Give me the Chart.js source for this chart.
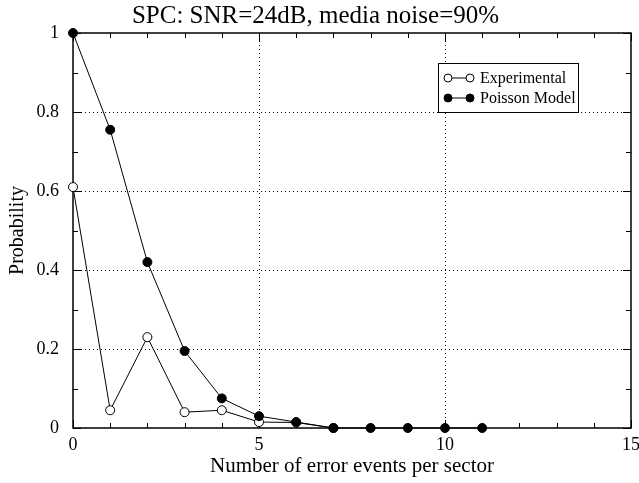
<!DOCTYPE html>
<html>
<head>
<meta charset="utf-8">
<script src="https://cdn.jsdelivr.net/npm/chart.js@4.4.0/dist/chart.umd.min.js"></script>
<style>
html,body{margin:0;padding:0;background:#fff;}
#wrap{width:639px;height:483px;}
</style>
</head>
<body>
<div id="wrap"><canvas id="c" width="639" height="483"></canvas></div>
<script>
const xExperimental = [0, 1, 2, 3, 4, 5, 6, 7];
const yExperimental = [0.61, 0.045, 0.23, 0.04, 0.045, 0.015, 0.014, 0];
const xPoisson = [0, 1, 2, 3, 4, 5, 6, 7, 8, 9, 10, 11];
const yPoisson = [1, 0.755, 0.42, 0.195, 0.075, 0.03, 0.015, 0, 0, 0, 0, 0];
const xTicks = [0, 5, 10, 15];
const yTicks = [0, 0.2, 0.4, 0.6, 0.8, 1];
const seriesNames = ['Experimental', 'Poisson Model'];

const FONT = "'Liberation Serif', 'Times New Roman', serif";

const framePlugin = {
  id: 'frame',
  beforeDatasetsDraw(chart) {
    const {ctx, chartArea: a, scales: {x, y}} = chart;
    ctx.save();
    ctx.strokeStyle = '#000';
    ctx.lineWidth = 1;
    ctx.setLineDash([1, 3]);
    xTicks.forEach(v => {
      if (v <= x.min || v >= x.max) return;
      const px = Math.round(x.getPixelForValue(v)) + 0.5;
      ctx.beginPath(); ctx.moveTo(px, a.top); ctx.lineTo(px, a.bottom); ctx.stroke();
    });
    yTicks.forEach(v => {
      if (v <= y.min || v >= y.max) return;
      const py = Math.round(y.getPixelForValue(v)) + 0.5;
      ctx.beginPath(); ctx.moveTo(a.left, py); ctx.lineTo(a.right, py); ctx.stroke();
    });
    ctx.setLineDash([]);
    for (let v = x.min; v <= x.max; v += 1) {
      const px = Math.round(x.getPixelForValue(v)) + 0.5;
      const len = (v % 5 === 0) ? 8 : 5;
      ctx.beginPath();
      ctx.moveTo(px, a.bottom); ctx.lineTo(px, a.bottom - len);
      ctx.moveTo(px, a.top); ctx.lineTo(px, a.top + len);
      ctx.stroke();
    }
    for (let i = 0; i <= 10; i++) {
      const v = i / 10;
      const py = Math.round(y.getPixelForValue(v)) + 0.5;
      const len = (i % 2 === 0) ? 8 : 5;
      ctx.beginPath();
      ctx.moveTo(a.left, py); ctx.lineTo(a.left + len, py);
      ctx.moveTo(a.right, py); ctx.lineTo(a.right - len, py);
      ctx.stroke();
    }
    ctx.lineWidth = 1.5;
    ctx.strokeRect(a.left, a.top, a.right - a.left, a.bottom - a.top);
    ctx.restore();
  },
  afterDatasetsDraw(chart) {
    const {ctx, chartArea: a} = chart;
    ctx.save();
    const bx = a.left + 365, by = a.top + 30, bw = 140, bh = 49;
    ctx.fillStyle = '#fff';
    ctx.fillRect(bx, by, bw, bh);
    ctx.strokeStyle = '#000';
    ctx.lineWidth = 1;
    ctx.strokeRect(bx + 0.5, by + 0.5, bw, bh);
    const rows = [by + 15, by + 35];
    const items = [chart.data.datasets[0], chart.data.datasets[1]];
    items.forEach((ds, i) => {
      const yy = rows[i];
      ctx.beginPath(); ctx.moveTo(bx + 10, yy); ctx.lineTo(bx + 32, yy); ctx.stroke();
      [bx + 10, bx + 32].forEach(cx => {
        ctx.beginPath(); ctx.arc(cx, yy, 4, 0, Math.PI * 2);
        ctx.fillStyle = ds.pointBackgroundColor; ctx.fill();
        ctx.stroke();
      });
      ctx.fillStyle = '#000';
      ctx.font = '16px ' + FONT;
      ctx.textBaseline = 'middle';
      ctx.textAlign = 'left';
      ctx.fillText(ds.label, bx + 42, yy + 1);
    });
    ctx.restore();
  }
};

new Chart(document.getElementById('c'), {
  type: 'line',
  data: {
    datasets: [
      {
        label: seriesNames[0],
        data: xExperimental.map((v, i) => ({x: v, y: yExperimental[i]})),
        borderColor: '#000', borderWidth: 1,
        pointBackgroundColor: '#fff', pointBorderColor: '#000',
        pointRadius: 4.5, pointBorderWidth: 1, tension: 0, fill: false,
        order: 2
      },
      {
        label: seriesNames[1],
        data: xPoisson.map((v, i) => ({x: v, y: yPoisson[i]})),
        borderColor: '#000', borderWidth: 1,
        pointBackgroundColor: '#000', pointBorderColor: '#000',
        pointRadius: 4.5, pointBorderWidth: 1, tension: 0, fill: false,
        order: 1
      }
    ]
  },
  options: {
    responsive: false,
    animation: false,
    clip: false,
    layout: {padding: {left: 0, right: 8, top: 0, bottom: 0}},
    plugins: {
      legend: {display: false},
      tooltip: {enabled: false},
      title: {
        display: true,
        text: 'SPC: SNR=24dB, media noise=90%',
        color: '#000',
        font: {family: FONT, size: 25, weight: 'normal', lineHeight: 1.0},
        padding: {top: 4, bottom: 4}
      }
    },
    scales: {
      x: {
        type: 'linear', min: 0, max: 15,
        afterBuildTicks: s => { s.ticks = xTicks.map(v => ({value: v})); },
        afterFit: s => { s.height = 55; },
        grid: {display: false},
        border: {display: false},
        ticks: {color: '#000', font: {family: FONT, size: 18}, padding: -2, maxRotation: 0},
        title: {display: true, text: 'Number of error events per sector', color: '#000',
                font: {family: FONT, size: 21}, padding: {top: 2, bottom: 4}}
      },
      y: {
        type: 'linear', min: 0, max: 1,
        afterBuildTicks: s => { s.ticks = yTicks.map(v => ({value: v})); },
        afterFit: s => { s.width = 73; },
        grid: {display: false},
        border: {display: false},
        ticks: {color: '#000', font: {family: FONT, size: 18}, padding: 6,
                callback: v => String(Math.round(v * 10) / 10)},
        title: {display: true, text: 'Probability', color: '#000',
                font: {family: FONT, size: 20}, padding: {top: 6, bottom: 4}}
      }
    }
  },
  plugins: [framePlugin]
});
</script>
</body>
</html>
